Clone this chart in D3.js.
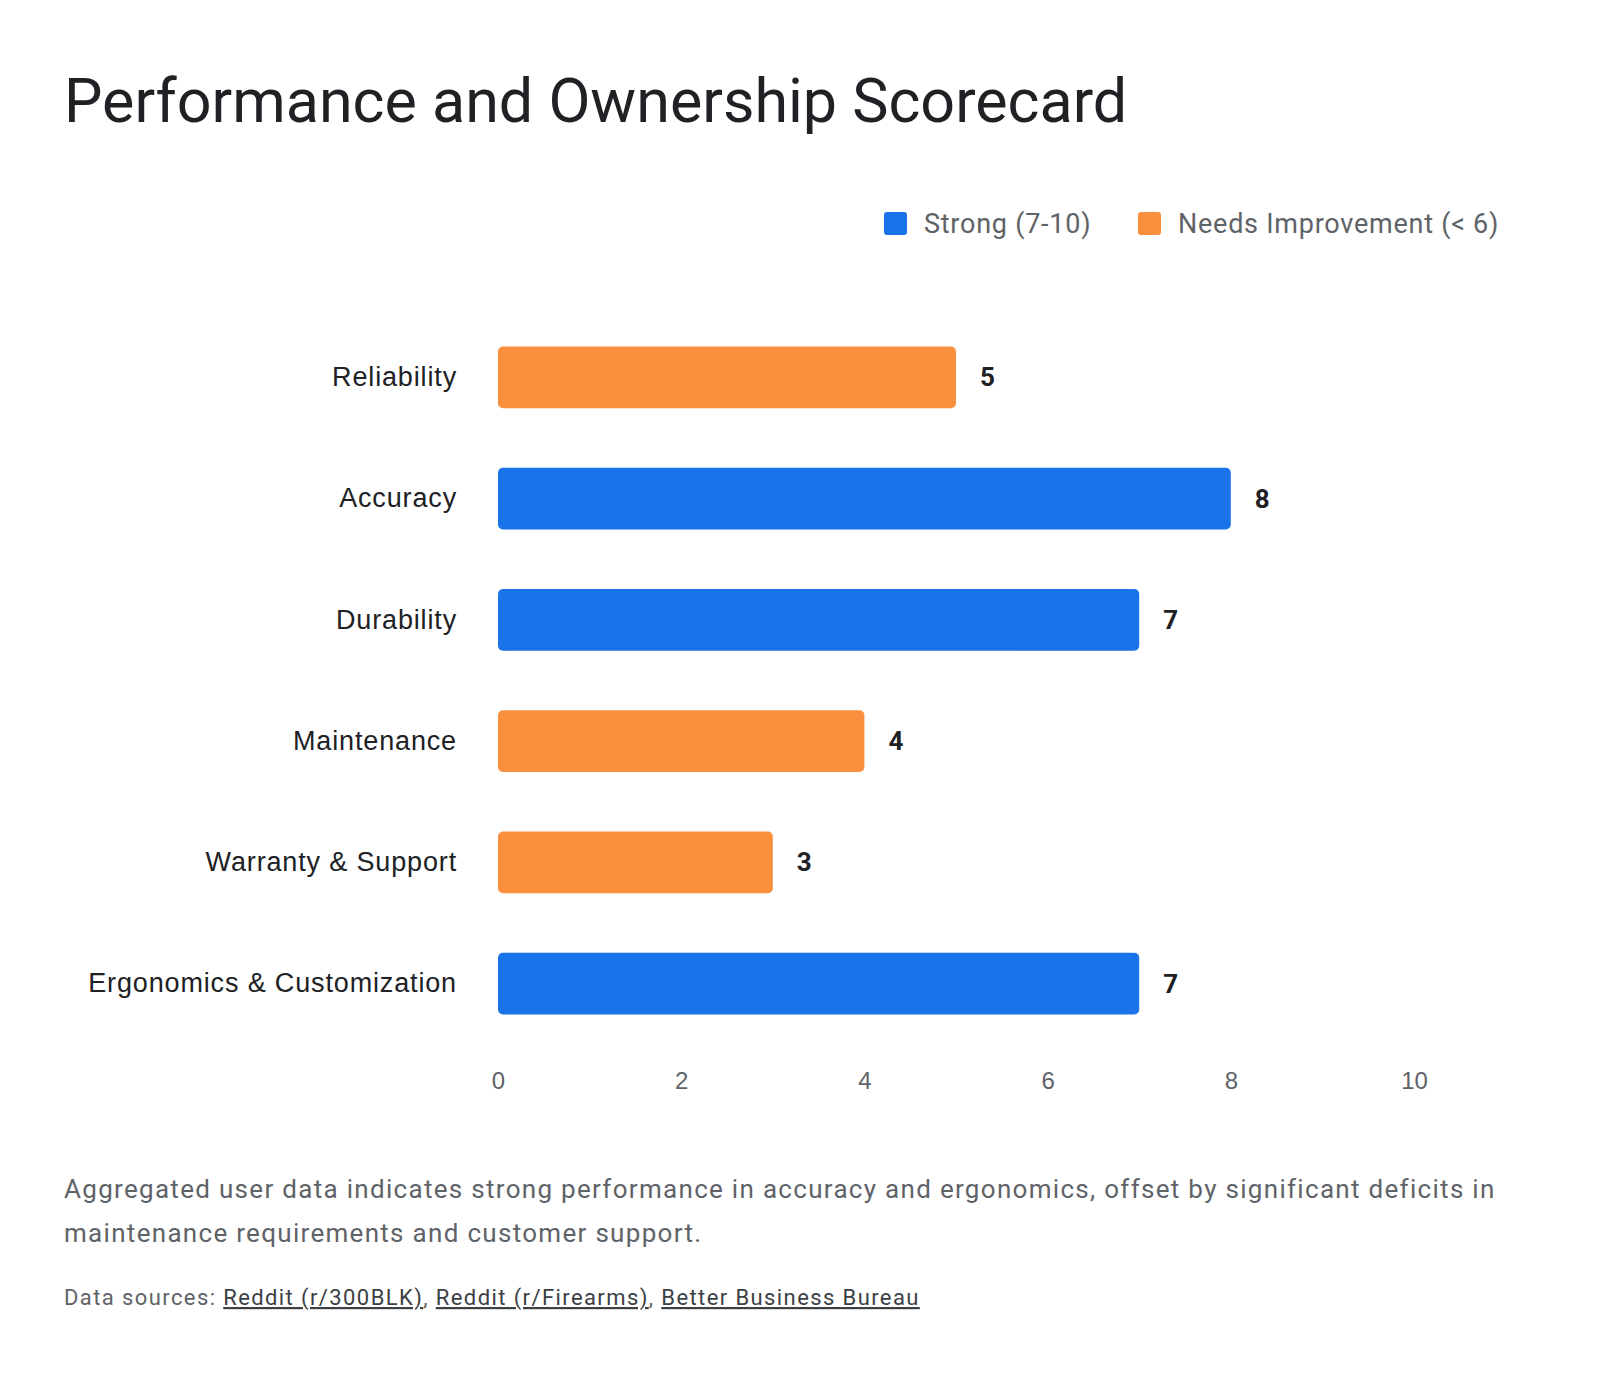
<!DOCTYPE html>
<html>
<head>
<meta charset="utf-8">
<script src="https://cdn.jsdelivr.net/npm/d3@7"></script>
<style>
  html, body { margin: 0; padding: 0; background: #ffffff; }
  svg { display: block; font-family: Roboto, "Noto Sans", sans-serif; }
</style>
</head>
<body>
<svg id="chart" width="1600" height="1378"></svg>
<script>
const title = "Performance and Ownership Scorecard";
const categories = ["Reliability", "Accuracy", "Durability", "Maintenance", "Warranty & Support", "Ergonomics & Customization"];
const scores = [5, 8, 7, 4, 3, 7];
const groups = ["weak", "strong", "strong", "weak", "weak", "strong"];
const legendKeys = ["strong", "weak"];
const legendLabels = ["Strong (7-10)", "Needs Improvement (< 6)"];
const xTicks = [0, 2, 4, 6, 8, 10];
const summary = "Aggregated user data indicates strong performance in accuracy and ergonomics, offset by significant deficits in maintenance requirements and customer support.";
const sourcePrefix = "Data sources: ";
const sources = ["Reddit (r/300BLK)", "Reddit (r/Firearms)", "Better Business Bureau"];

const colors = { strong: "#1A73E8", weak: "#FA903E" };
const svg = d3.select("#chart");
svg.append("rect").attr("width", 1600).attr("height", 1378).attr("fill", "#fff");

svg.append("text").attr("x", 64).attr("y", 122)
  .attr("font-size", 61).attr("fill", "#202124").text(title);

// legend
const legendPos = [884, 1138];
legendKeys.forEach((k, i) => {
  const g = svg.append("g").attr("transform", `translate(${legendPos[i]},212)`);
  g.append("rect").attr("width", 23).attr("height", 23).attr("rx", 3).attr("fill", colors[k]);
  g.append("text").attr("x", 40).attr("y", 11.5).attr("dy", "0.35em")
    .attr("font-size", 27).attr("letter-spacing", 0.75).attr("fill", "#5f6368").text(legendLabels[i]);
});

const x = d3.scaleLinear().domain([0, 10]).range([498, 1414]);
const y = d3.scaleBand().domain(categories).range([287, 1074]).paddingInner(0.49).paddingOuter(0.49);

const data = categories.map((c, i) => ({ c, v: scores[i], g: groups[i] }));

svg.append("g").selectAll("rect").data(data).join("rect")
  .attr("x", x(0)).attr("y", d => y(d.c))
  .attr("width", d => x(d.v) - x(0)).attr("height", y.bandwidth())
  .attr("rx", 5).attr("fill", d => colors[d.g]);

svg.append("g").selectAll("text").data(data).join("text")
  .attr("x", d => x(d.v) + 24).attr("y", d => y(d.c) + y.bandwidth() / 2).attr("dy", "0.35em")
  .attr("font-size", 26).attr("font-weight", 700).attr("fill", "#202124").text(d => d.v);

const yAxis = svg.append("g").attr("transform", `translate(${x(0) - 41},0)`)
  .call(d3.axisLeft(y).tickSize(0).tickPadding(0));
yAxis.select(".domain").remove();
yAxis.selectAll("text").attr("font-size", 27).attr("letter-spacing", 0.85)
  .attr("fill", "#202124").attr("font-family", null);

const xAxis = svg.append("g").attr("transform", "translate(0,1072)")
  .call(d3.axisBottom(x).tickValues(xTicks).tickSize(0).tickPadding(0));
xAxis.select(".domain").remove();
xAxis.selectAll("text").attr("font-size", 24).attr("fill", "#5f6368").attr("font-family", null);

// summary wrap
const sumText = svg.append("text").attr("x", 64).attr("y", 1198)
  .attr("font-size", 26).attr("letter-spacing", 1.3).attr("fill", "#5f6368");
const words = summary.split(" ");
let line = [];
let tspan = sumText.append("tspan").attr("x", 64).attr("dy", 0);
words.forEach(w => {
  line.push(w);
  tspan.text(line.join(" "));
  if (tspan.node().getComputedTextLength() > 1475 && line.length > 1) {
    line.pop();
    tspan.text(line.join(" "));
    line = [w];
    tspan = sumText.append("tspan").attr("x", 64).attr("dy", 44).text(w);
  }
});

const src = svg.append("text").attr("x", 64).attr("y", 1305)
  .attr("font-size", 22).attr("letter-spacing", 1.4).attr("fill", "#5f6368");
src.append("tspan").text(sourcePrefix);
sources.forEach((s, i) => {
  src.append("tspan").attr("fill", "#3c4043").attr("text-decoration", "underline").text(s);
  if (i < sources.length - 1) src.append("tspan").text(", ");
});
</script>
</body>
</html>
